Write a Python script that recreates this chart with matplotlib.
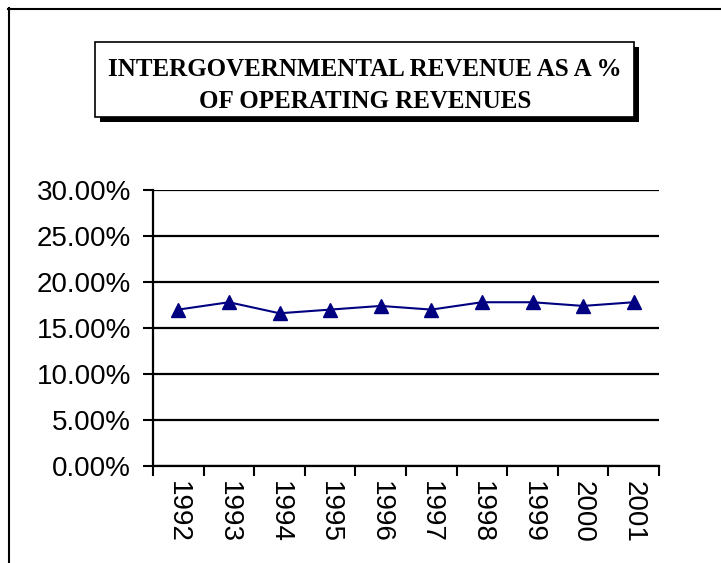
import matplotlib
matplotlib.use("Agg")
import matplotlib.pyplot as plt
from matplotlib.patches import Rectangle
from matplotlib.lines import Line2D
from matplotlib.ticker import FuncFormatter

years = ["1992", "1993", "1994", "1995", "1996", "1997", "1998", "1999", "2000", "2001"]
pct = [17.0, 17.8, 16.6, 17.0, 17.4, 17.0, 17.8, 17.8, 17.4, 17.8]
yticks = [0, 5, 10, 15, 20, 25, 30]
title_lines = ["INTERGOVERNMENTAL REVENUE AS A %", "OF OPERATING REVENUES"]

W, H = 721, 563
fig = plt.figure(figsize=(W / 100, H / 100), dpi=100)
fig.patch.set_facecolor("white")

def fx(px):
    return px / W

def fy(py):
    return 1 - py / H

# outer frame (left and top edges visible)
fig.add_artist(Line2D([fx(8.5), fx(8.5)], [fy(8), fy(563)], color="black", lw=1.5, transform=fig.transFigure))
fig.add_artist(Line2D([fx(8), fx(721)], [fy(8.5), fy(8.5)], color="black", lw=1.5, transform=fig.transFigure))

# title box with shadow
bx0, by0, bx1, by1 = 95, 42, 634, 117
sh = 5
fig.add_artist(Rectangle((fx(bx0 + sh), fy(by1 + sh)), fx(bx1 - bx0), (by1 - by0) / H,
                         transform=fig.transFigure, facecolor="black", edgecolor="black", lw=0))
fig.add_artist(Rectangle((fx(bx0), fy(by1)), fx(bx1 - bx0), (by1 - by0) / H,
                         transform=fig.transFigure, facecolor="white", edgecolor="black", lw=1.2))
fig.text(fx(365), fy(70), title_lines[0], ha="center", va="center",
         family="Liberation Serif", weight="bold", fontsize=18)
fig.text(fx(365), fy(101), title_lines[1], ha="center", va="center",
         family="Liberation Serif", weight="bold", fontsize=18)

ax = fig.add_axes([fx(153), fy(466), fx(659 - 153), (466 - 190) / H])
x = list(range(len(years)))
ax.plot(x, pct, color="#000080", lw=1.5, marker="^", markersize=10,
        markerfacecolor="#000080", markeredgecolor="#000080")

ax.set_xlim(-0.5, len(years) - 0.5)
ax.set_ylim(0, 30)
ax.set_yticks(yticks)
ax.yaxis.set_major_formatter(FuncFormatter(lambda v, p: f"{v:.2f}%"))
ax.grid(axis="y", color="black", lw=1.6)
ax.set_axisbelow(True)

ax.set_xticks([i - 0.5 for i in range(len(years) + 1)])
ax.set_xticklabels([])
ax.set_xticks(x, minor=True)
ax.set_xticklabels(years, minor=True, rotation=-90, fontsize=20, family="Liberation Sans")
ax.tick_params(axis="x", which="major", direction="out", length=7, width=1.5, color="black")
ax.tick_params(axis="x", which="minor", length=0, pad=11)
ax.tick_params(axis="y", direction="out", length=7, width=1.5, labelsize=20, pad=9)
for lbl in ax.get_yticklabels():
    lbl.set_family("Liberation Sans")

for s in ["top", "right"]:
    ax.spines[s].set_visible(False)
for s in ["left", "bottom"]:
    ax.spines[s].set_linewidth(1.6)
    ax.spines[s].set_color("black")

fig.savefig("out.png", dpi=100, facecolor="white")
